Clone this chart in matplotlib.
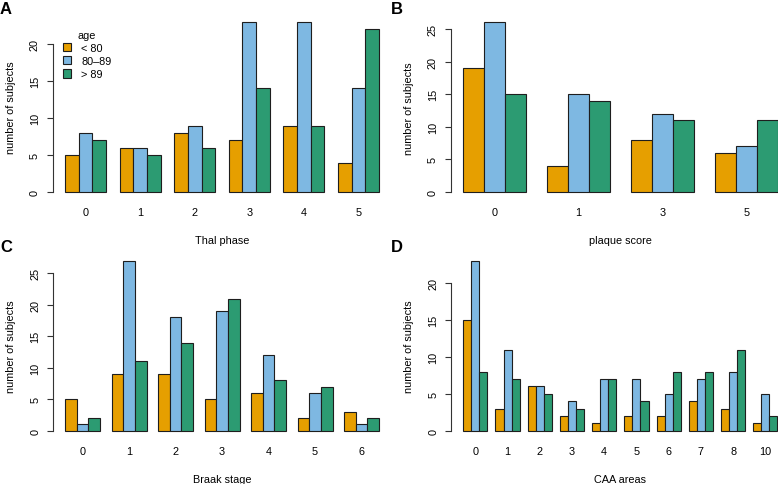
import matplotlib
matplotlib.use("Agg")
import matplotlib.pyplot as plt
import numpy as np
from matplotlib.patches import Patch

plt.rcParams['font.family'] = ['Liberation Sans', 'DejaVu Sans']

age_groups = ["< 80", "80\u201389", "> 89"]
colors = ["#E69F00", "#7EB8E2", "#2C9B72"]

thal_cats = ["0", "1", "2", "3", "4", "5"]
thal_lt80 = [5, 6, 8, 7, 9, 4]
thal_80_89 = [8, 6, 9, 23, 23, 14]
thal_gt89 = [7, 5, 6, 14, 9, 22]

plaque_cats = ["0", "1", "3", "5"]
plaque_lt80 = [19, 4, 8, 6]
plaque_80_89 = [26, 15, 12, 7]
plaque_gt89 = [15, 14, 11, 11]

braak_cats = ["0", "1", "2", "3", "4", "5", "6"]
braak_lt80 = [5, 9, 9, 5, 6, 2, 3]
braak_80_89 = [1, 27, 18, 19, 12, 6, 1]
braak_gt89 = [2, 11, 14, 21, 8, 7, 2]

caa_cats = ["0", "1", "2", "3", "4", "5", "6", "7", "8", "10"]
caa_lt80 = [15, 3, 6, 2, 1, 2, 2, 4, 3, 1]
caa_80_89 = [23, 11, 6, 4, 7, 7, 5, 7, 8, 5]
caa_gt89 = [8, 7, 5, 3, 7, 4, 8, 8, 11, 2]

FS = 7.8
W, H = 778, 485
fig = plt.figure(figsize=(W / 100, H / 100), dpi=100)


def px_axes(left, top, right, bottom):
    return fig.add_axes([left / W, 1 - bottom / H, (right - left) / W, (bottom - top) / H])


def rbar(ax, cats, series, yticks, xlabel):
    n = len(cats)
    ymax = max(max(s) for s in series)
    for j, (s, c) in enumerate(zip(series, colors)):
        x = np.arange(n) * 4 + 1 + j
        ax.bar(x, s, width=1.0, align='edge', color=c, edgecolor='#1e1e1e', linewidth=0.8)
    lo, hi = 1, 4 * n
    pad = 0.04 * (hi - lo)
    ax.set_xlim(lo - pad, hi + pad)
    ax.set_ylim(-0.04 * ymax, ymax * 1.04)
    centers = np.arange(n) * 4 + 2.5
    ax.set_xticks(centers)
    ax.set_xticklabels(cats, fontsize=FS)
    ax.tick_params(axis='x', length=0, pad=6)
    ax.set_yticks(yticks)
    ax.set_yticklabels([str(t) for t in yticks], fontsize=FS)
    ax.tick_params(axis='y', direction='out', length=4, width=0.8, colors='#333333',
                   labelcolor='black', pad=5, labelrotation=90)
    for t in ax.get_yticklabels():
        t.set_va('center')
    for sp in ['top', 'right', 'bottom']:
        ax.spines[sp].set_visible(False)
    ax.spines['left'].set_bounds(yticks[0], yticks[-1])
    ax.spines['left'].set_linewidth(0.8)
    ax.spines['left'].set_color('#333333')
    ax.set_xlabel(xlabel, fontsize=FS, labelpad=13)
    ax.set_ylabel("number of subjects", fontsize=FS, labelpad=10)
    ax.patch.set_alpha(0)


axA = px_axes(52.5, 16, 391.5, 200)
rbar(axA, thal_cats, [thal_lt80, thal_80_89, thal_gt89], [0, 5, 10, 15, 20], "Thal phase")
axB = px_axes(450.5, 16.7, 790.5, 199.8)
rbar(axB, plaque_cats, [plaque_lt80, plaque_80_89, plaque_gt89], [0, 5, 10, 15, 20, 25], "plaque score")
axC = px_axes(52.7, 255, 391.6, 438.5)
rbar(axC, braak_cats, [braak_lt80, braak_80_89, braak_gt89], [0, 5, 10, 15, 20, 25], "Braak stage")
axD = px_axes(450.7, 255.4, 790, 438.5)
rbar(axD, caa_cats, [caa_lt80, caa_80_89, caa_gt89], [0, 5, 10, 15, 20], "CAA areas")

handles = [Patch(facecolor=c, edgecolor='#1e1e1e', linewidth=0.8) for c in colors]
leg = axA.legend(handles, age_groups, title="age", frameon=False, fontsize=FS,
                 title_fontsize=FS, loc='upper left',
                 bbox_to_anchor=(55 / W, 1 - 23 / H), bbox_transform=fig.transFigure,
                 handlelength=0.8, handleheight=0.8, handletextpad=0.9, labelspacing=0.3,
                 borderpad=0.2)

for lab, x, y in [("A", 0, 9), ("B", 391, 9), ("C", 0, 247.5), ("D", 391, 247.5)]:
    fig.text(x / W, 1 - y / H, lab, fontsize=12, fontweight='bold', va='center', ha='left')

fig.savefig("out.png", dpi=100)
